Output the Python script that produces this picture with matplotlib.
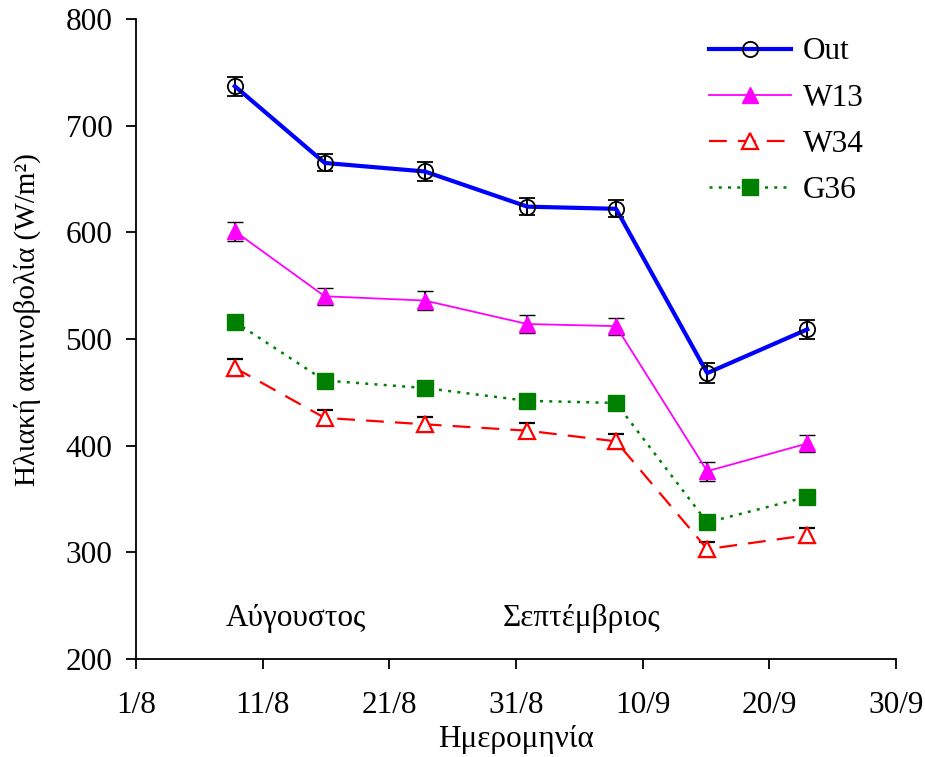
import matplotlib
matplotlib.use("Agg")
from matplotlib import pyplot as plt
from matplotlib.lines import Line2D

# days counted from 1/8
days = [7.8, 14.9, 22.8, 30.9, 37.9, 45.1, 53.0]

out_vals = [737, 665, 657, 624, 622, 468, 509]
w13_vals = [601, 540, 536, 514, 512, 376, 402]
w34_vals = [473, 426, 420, 414, 404, 303, 316]
g36_vals = [516, 461, 454, 442, 440, 328, 352]

out_err = [9, 8, 9, 8, 8, 9, 9]
w13_err = [9, 8, 9, 8, 8, 9, 8]
w34_err = [8, 7, 7, 7, 7, 7, 7]
g36_err = [4, 4, 4, 4, 4, 4, 4]

tick_days = [0, 10, 20, 30, 40, 50, 60]
tick_labels = ['1/8', '11/8', '21/8', '31/8', '10/9', '20/9', '30/9']
months = ['Αύγουστος', 'Σεπτέμβριος']
month_pos = [12.6, 35.2]

plt.rcParams['font.family'] = ['Liberation Serif', 'DejaVu Serif']
fs = 22.5

fig = plt.figure(figsize=(9.25, 7.57), dpi=100)
ax = fig.add_axes([0.147, 0.1295, 0.8216, 0.8455])

ebkw = dict(ecolor='black', elinewidth=1.5, capsize=6, capthick=1.5)

styles = [
    dict(color='#0000ff', lw=3, ls='-', marker='o', ms=11, mfc='none', mec='black', mew=1.3),
    dict(color='#ff00ff', lw=1.3, ls='-', marker='^', ms=12, mfc='#ff00ff', mec='#ff00ff', mew=1),
    dict(color='#ff0000', lw=1.6, ls=(0, (8, 5)), marker='^', ms=12, mfc='white', mec='#ff0000', mew=1.6),
    dict(color='#008000', lw=1.8, ls=(0, (1.2, 2.5)), marker='s', ms=11.5, mfc='#008000', mec='#008000', mew=1),
]
names = ['Out', 'W13', 'W34', 'G36']
series = [out_vals, w13_vals, w34_vals, g36_vals]
errs = [out_err, w13_err, w34_err, g36_err]

for vals, err, st in zip(series, errs, styles):
    ax.errorbar(days, vals, yerr=err, zorder=3, **st, **ebkw)

for name, xp in zip(months, month_pos):
    ax.text(xp, 238, name, ha='center', va='center', fontsize=fs)

ax.set_xlim(0, 60)
ax.set_ylim(200, 800)
ax.set_xticks(tick_days)
ax.set_xticklabels(tick_labels)
ax.set_yticks(range(200, 801, 100))
ax.tick_params(labelsize=fs, direction='out', length=7, width=1.3)
ax.tick_params(axis='x', pad=16)
ax.tick_params(axis='y', pad=10)
for s in ['top', 'right']:
    ax.spines[s].set_visible(False)
for s in ['left', 'bottom']:
    ax.spines[s].set_linewidth(1.3)

ax.set_xlabel('Ημερομηνία', fontsize=fs, labelpad=4)
ax.set_ylabel('Ηλιακή ακτινοβολία (W/m²)', fontsize=21)
ax.yaxis.set_label_coords(-0.125, 0.53)

handles = [Line2D([], [], **st) for st in styles]
ax.legend(handles, names, loc='upper right', frameon=False, fontsize=fs,
          handlelength=2.6, handletextpad=0.4, labelspacing=0.55,
          bbox_to_anchor=(0.995, 1.015))

fig.savefig('out.png', dpi=100)
